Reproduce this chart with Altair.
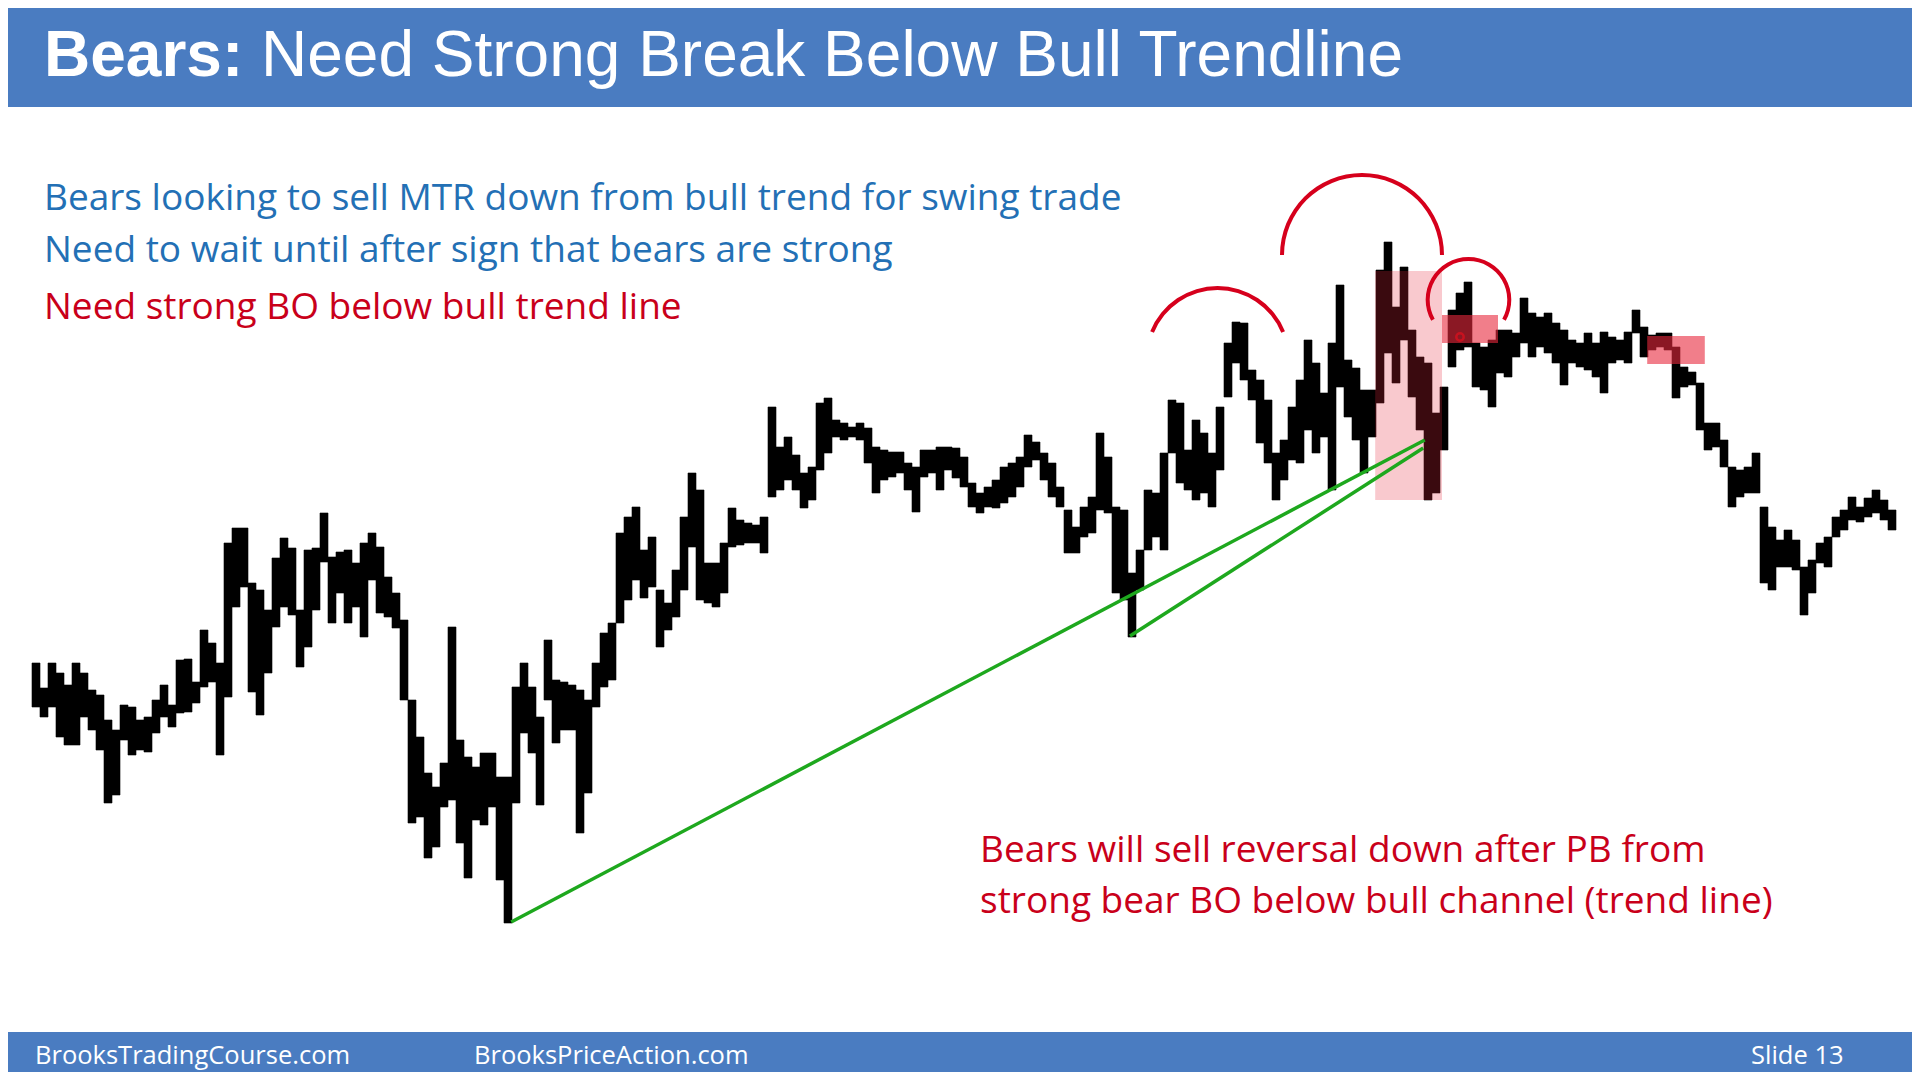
import altair as alt
import pandas as pd

# ---- price bars (index level) ----
bar_high = [
    337, 312, 337, 327, 315, 337, 327, 310, 305, 280, 270, 295, 293, 280, 283, 300, 315, 295, 340, 341,
    318, 370, 357, 337, 457, 472, 472, 417, 410, 390, 442, 462, 452, 390, 450, 452,
    487, 443, 448, 450, 437, 457, 467, 453, 423, 407, 380, 300, 263, 227, 213, 237, 373, 260, 243, 233,
    247, 247, 223, 223, 313, 337, 313, 283, 360, 320, 318, 315, 310, 300, 337, 367, 377, 467, 483, 493,
    450, 463, 410, 397, 430, 483, 527, 510, 437, 437, 457, 492, 480, 477, 475, 483, 593, 553, 563, 545,
    527, 533, 597, 602, 580, 577, 573, 577, 572, 553, 550, 548, 548, 537, 533, 550, 550, 553, 553, 552,
    543, 517, 507, 513, 520, 533, 537, 543, 565, 558, 547, 537, 513, 490, 473, 493, 503, 567, 543, 493,
    490, 427, 450, 510, 507, 547, 600, 597, 550, 580, 567, 547, 593, 657, 678, 677, 630, 620, 600, 547,
    560, 593, 620, 660, 637, 607, 657, 715, 640, 632, 610, 610, 730, 758, 693, 733, 670, 643, 637, 587,
    613, 690, 707, 718, 657, 653, 660, 670, 670, 667, 702, 687, 683, 687, 677, 670, 660, 657, 667, 657,
    668, 663, 660, 668, 690, 673, 665, 667, 667, 653, 633, 628, 617, 577, 577, 560, 533, 530, 533, 547,
    493, 473, 460, 470, 460, 433, 440, 457, 463, 483, 490, 503, 493, 502, 510, 500, 490,
]
bar_low = [
    293, 283, 293, 263, 255, 255, 283, 270, 250, 197, 205, 260, 245, 250, 248, 267, 283, 273, 287, 288,
    297, 313, 318, 245, 303, 393, 413, 308, 285, 327, 373, 393, 385, 333, 353, 390,
    438, 377, 407, 377, 393, 363, 420, 387, 383, 372, 300, 177, 183, 142, 153, 193, 200, 157, 122, 180,
    175, 193, 120, 77, 197, 267, 247, 195, 300, 257, 270, 270, 167, 207, 293, 313, 320, 377, 400, 420,
    402, 413, 353, 370, 383, 410, 453, 400, 397, 393, 407, 453, 455, 457, 457, 447, 503, 510, 520, 510,
    492, 500, 530, 547, 563, 560, 563, 560, 537, 507, 520, 523, 527, 510, 488, 523, 527, 510, 530, 522,
    513, 493, 487, 493, 492, 497, 503, 513, 533, 540, 520, 503, 493, 447, 447, 463, 467, 490, 487, 407,
    400, 363, 410, 450, 463, 450, 547, 517, 510, 500, 507, 493, 530, 603, 637, 620, 600, 557, 537, 500,
    520, 540, 537, 570, 547, 563, 510, 613, 583, 560, 527, 563, 597, 647, 617, 660, 603, 570, 500, 507,
    550, 633, 650, 653, 613, 610, 593, 627, 623, 643, 657, 643, 653, 647, 637, 615, 637, 633, 630, 623,
    607, 637, 640, 637, 667, 643, 650, 653, 650, 602, 613, 615, 570, 550, 553, 533, 493, 503, 507, 507,
    417, 410, 433, 433, 430, 385, 407, 437, 433, 463, 470, 480, 478, 483, 487, 480, 470,
]

# ---- trend lines (bar index, price) ----
tl_id = ["major", "major", "minor", "minor"]
tl_bar = [59.9, 174.1, 137.25, 173.9]
tl_price = [78, 560, 364, 552]

# ---- highlighted zones ----
zone_light = {"b0": [167.9], "b1": [176.25], "p0": [500], "p1": [729]}
zone_red = {"b0": [176.25, 201.9], "b1": [183.25, 209.1], "p0": [657, 636], "p1": [685, 664]}

# ---- arcs over the tops (centre bar index, centre price) ----
arc_bar = [148.2, 166.25, 179.56]
arc_price = [641.2, 745.0, 700.2]

entry_bar = [178.5]
entry_price = [663]

title_bold = "Bears:"
title_rest = "Need Strong Break Below Bull Trendline"
blue_lines = ["Bears looking to sell MTR down from bull trend for swing trade",
              "Need to wait until after sign that bears are strong"]
red_line = "Need strong BO below bull trend line"
red_note = ["Bears will sell reversal down after PB from",
            "strong bear BO below bull channel (trend line)"]
footer_items = ["BrooksTradingCourse.com", "BrooksPriceAction.com", "Slide  13"]

W, H = 1904, 1064
HEADER = "#4a7cc1"
BLUE = "#2370b5"
RED = "#c9001a"
TEXT_FONT = "Open Sans"

xs = alt.Scale(domain=[-3, 235], nice=False, zero=False)
ys = alt.Scale(domain=[-72, 992], nice=False, zero=False)

one = pd.DataFrame({"k": [0]})

header = alt.Chart(one).mark_rect(color=HEADER).encode(
    x=alt.value(0), x2=alt.value(W), y=alt.value(0), y2=alt.value(99))
footer = alt.Chart(one).mark_rect(color=HEADER).encode(
    x=alt.value(0), x2=alt.value(W), y=alt.value(1024), y2=alt.value(H))

df_bars = pd.DataFrame({"bar": list(range(len(bar_high))), "high": bar_high, "low": bar_low})
bars = alt.Chart(df_bars).transform_calculate(bar_end="datum.bar + 1").mark_rect(
    color="black", stroke="black", strokeWidth=0.6).encode(
    x=alt.X("bar:Q", scale=xs, axis=None),
    x2="bar_end:Q",
    y=alt.Y("low:Q", scale=ys, axis=None),
    y2="high:Q",
)

light = alt.Chart(pd.DataFrame(zone_light)).mark_rect(color="#e8283c", opacity=0.25).encode(
    x=alt.X("b0:Q", scale=xs, axis=None), x2="b1:Q",
    y=alt.Y("p0:Q", scale=ys, axis=None), y2="p1:Q")
redz = alt.Chart(pd.DataFrame(zone_red)).mark_rect(color="#e8283c", opacity=0.6).encode(
    x=alt.X("b0:Q", scale=xs, axis=None), x2="b1:Q",
    y=alt.Y("p0:Q", scale=ys, axis=None), y2="p1:Q")

trend = alt.Chart(pd.DataFrame({"id": tl_id, "bar": tl_bar, "price": tl_price})).mark_line(
    color="#1ea81e", strokeWidth=3.5).encode(
    x=alt.X("bar:Q", scale=xs, axis=None),
    y=alt.Y("price:Q", scale=ys, axis=None),
    detail="id:N")

arc_specs = [
    dict(radius=72.8, radius2=68.8, theta=5.1016, theta2=7.4648),
    dict(radius=82.0, radius2=78.0, theta=4.7124, theta2=7.8540),
    dict(radius=42.8, radius2=38.8, theta=4.1992, theta2=8.3672),
]
arcs = []
for k, spec in enumerate(arc_specs):
    d = pd.DataFrame({"bar": [arc_bar[k]], "price": [arc_price[k]]})
    arcs.append(alt.Chart(d).mark_arc(color="#d6001c", **spec).encode(
        x=alt.X("bar:Q", scale=xs, axis=None),
        y=alt.Y("price:Q", scale=ys, axis=None)))

entry = alt.Chart(pd.DataFrame({"bar": entry_bar, "price": entry_price})).mark_point(
    shape="circle", filled=False, color="#e0101e", strokeWidth=2.5, size=55).encode(
    x=alt.X("bar:Q", scale=xs, axis=None),
    y=alt.Y("price:Q", scale=ys, axis=None))


def label(txt, x, y, size, color, font, weight="normal", align="left"):
    return alt.Chart(pd.DataFrame({"t": [txt]})).mark_text(
        align=align, baseline="alphabetic", font=font, fontSize=size,
        fontWeight=weight, color=color).encode(
        text="t:N", x=alt.value(x), y=alt.value(y))


texts = [
    label(title_bold, 36, 68, 64, "white", "Liberation Sans", "bold"),
    label(title_rest, 253, 68, 64, "white", "Liberation Sans"),
    label(blue_lines[0], 36, 202, 37, BLUE, TEXT_FONT),
    label(blue_lines[1], 36, 254, 37, BLUE, TEXT_FONT),
    label(red_line, 36, 311, 37, RED, TEXT_FONT),
    label(red_note[0], 972, 854, 37, RED, TEXT_FONT),
    label(red_note[1], 972, 905, 37, RED, TEXT_FONT),
    label(footer_items[0], 27, 1056, 25.5, "white", TEXT_FONT),
    label(footer_items[1], 466, 1056, 25.5, "white", TEXT_FONT),
    label(footer_items[2], 1743, 1056, 25.5, "white", TEXT_FONT),
]

chart = alt.layer(header, footer, bars, light, redz, trend, *arcs, entry, *texts).properties(
    width=W, height=H, padding=0,
    autosize=alt.AutoSizeParams(type="none"),
).configure_view(stroke=None)

chart.save("out.html", embed_options={"renderer": "svg", "actions": False})
